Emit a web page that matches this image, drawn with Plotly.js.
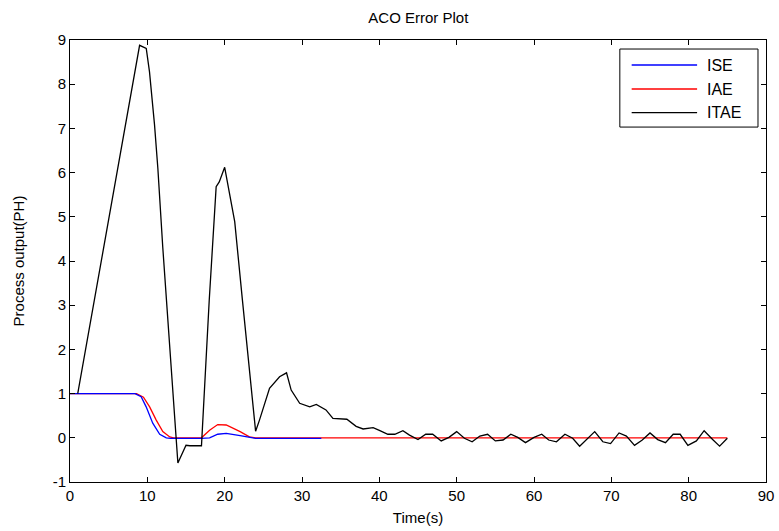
<!DOCTYPE html>
<html>
<head>
<meta charset="utf-8">
<script src="https://cdn.plot.ly/plotly-3.0.1.min.js"></script>
<style>html,body{margin:0;padding:0;background:#fff}#chart{width:779px;height:531px}</style>
</head>
<body>
<div id="chart"></div>
<script>
// Series names and colours
const seriesNames = ['ISE', 'IAE', 'ITAE'];
const seriesColors = ['#0000ff', '#ff0000', '#000000'];
// ISE series
const iseT = [0, 8.4, 9.2, 9.85, 10.7, 11.6, 12.45, 13.0, 17.0, 18.05, 19.1, 20.2, 22.0, 23.2, 24.0, 32.5];
const iseV = [1, 1, 0.93, 0.70, 0.33, 0.08, 0, -0.015, -0.015, 0.0, 0.08, 0.10, 0.05, 0.01, -0.015, -0.015];
// IAE series
const iaeT = [0, 8.6, 9.5, 10.3, 11.15, 12.0, 12.9, 13.4, 17.0, 18.05, 19.1, 20.2, 22.0, 23.2, 24.0, 85];
const iaeV = [1, 1, 0.92, 0.70, 0.40, 0.14, 0.02, 0, 0, 0.17, 0.30, 0.29, 0.14, 0.02, 0, 0];
// ITAE series
const itaeT = [1, 9.0, 9.86, 10.28, 10.93, 11.36, 12.0, 13.95, 15.0, 15.5, 17.0, 18.0, 18.9, 19.3, 20.0, 21.1, 21.3, 22.3, 24.0, 24.5, 25.8, 27.1, 28.0, 28.6, 29.7, 31.0, 31.85, 33.1, 34.0, 35.8, 37.0, 37.9, 39.2, 40.0, 41.1, 42.0, 43.05, 43.9, 45.0, 46.0, 46.9, 48.0, 49.0, 50.0, 51.0, 52.0, 53.0, 54.0, 55.0, 56.0, 57.0, 57.9, 58.9, 60.0, 61.0, 61.9, 62.9, 64.0, 65.0, 65.9, 67.0, 67.85, 68.9, 69.9, 71.0, 71.95, 73.0, 74.0, 75.0, 76.0, 77.0, 78.0, 78.9, 79.9, 81.0, 82.0, 83.1, 84.0, 85.0];
const itaeV = [1, 8.88, 8.81, 8.28, 7.08, 6.10, 4.30, -0.57, -0.17, -0.18, -0.18, 3.1, 5.68, 5.79, 6.12, 5.15, 4.89, 3.11, 0.15, 0.4, 1.12, 1.38, 1.47, 1.08, 0.78, 0.70, 0.755, 0.63, 0.44, 0.42, 0.26, 0.20, 0.23, 0.17, 0.08, 0.08, 0.16, 0.06, -0.04, 0.08, 0.08, -0.07, 0.01, 0.14, -0.01, -0.09, 0.04, 0.08, -0.07, -0.05, 0.08, 0.01, -0.11, 0.01, 0.08, -0.05, -0.09, 0.08, -0.01, -0.19, -0.01, 0.14, -0.09, -0.13, 0.11, 0.04, -0.17, -0.05, 0.11, -0.04, -0.11, 0.08, 0.08, -0.17, -0.07, 0.16, -0.04, -0.19, -0.01];

const xTicks = [0, 10, 20, 30, 40, 50, 60, 70, 80, 90];
const yTicks = [-1, 0, 1, 2, 3, 4, 5, 6, 7, 8, 9];

const F = 'Liberation Sans, Arial, sans-serif';
const xs = [iseT, iaeT, itaeT];
const ys = [iseV, iaeV, itaeV];

// draw IAE under ISE so the overlapping flat ISE segment stays visible
const order = [1, 0, 2];
const data = order.map(i => ({
  x: xs[i], y: ys[i], name: seriesNames[i], mode: 'lines',
  line: {color: seriesColors[i], width: 1.3}, showlegend: false
}));

const axisCommon = {
  showgrid: false, zeroline: false, showline: true, linecolor: '#000', linewidth: 1,
  mirror: 'ticks', ticks: 'inside', ticklen: 5, tickcolor: '#000',
  tickfont: {family: F, size: 15, color: '#000'}
};

// legend box (drawn as shapes + text)
const leg = {x0: 0.790, x1: 0.9885, y0: 0.803, y1: 0.9796, lx0: 0.807, lx1: 0.901, tx: 0.912, rows: [0.9434, 0.8891, 0.8355]};
const shapes = [{type: 'rect', xref: 'paper', yref: 'paper', x0: leg.x0, x1: leg.x1, y0: leg.y0, y1: leg.y1,
  line: {color: '#000', width: 1}, fillcolor: '#fff', layer: 'above'}];
const annotations = [];
seriesNames.forEach((n, i) => {
  shapes.push({type: 'line', xref: 'paper', yref: 'paper', x0: leg.lx0, x1: leg.lx1, y0: leg.rows[i], y1: leg.rows[i],
    line: {color: seriesColors[i], width: 1.3}, layer: 'above'});
  annotations.push({xref: 'paper', yref: 'paper', x: leg.tx, y: leg.rows[i], xanchor: 'left', yanchor: 'middle',
    text: n, showarrow: false, font: {family: F, size: 16, color: '#000'}});
});

const layout = {
  width: 779, height: 531,
  margin: {l: 70, r: 13, t: 40, b: 49},
  paper_bgcolor: '#fff', plot_bgcolor: '#fff',
  title: {text: 'ACO Error Plot', font: {family: F, size: 15, color: '#000'}, x: 0.537, xanchor: 'center', y: 0.967, yanchor: 'middle'},
  xaxis: Object.assign({}, axisCommon, {
    range: [0, 90], tickvals: xTicks, ticktext: xTicks.map(String),
    title: {text: 'Time(s)', font: {family: F, size: 15, color: '#000'}, standoff: 9}
  }),
  yaxis: Object.assign({}, axisCommon, {
    range: [-1, 9], tickvals: yTicks, ticktext: yTicks.map(String),
    title: {text: 'Process output(PH)', font: {family: F, size: 15, color: '#000'}, standoff: 24}
  }),
  shapes: shapes,
  annotations: annotations,
  showlegend: false
};

Plotly.newPlot('chart', data, layout, {displayModeBar: false, staticPlot: true});
</script>
</body>
</html>
